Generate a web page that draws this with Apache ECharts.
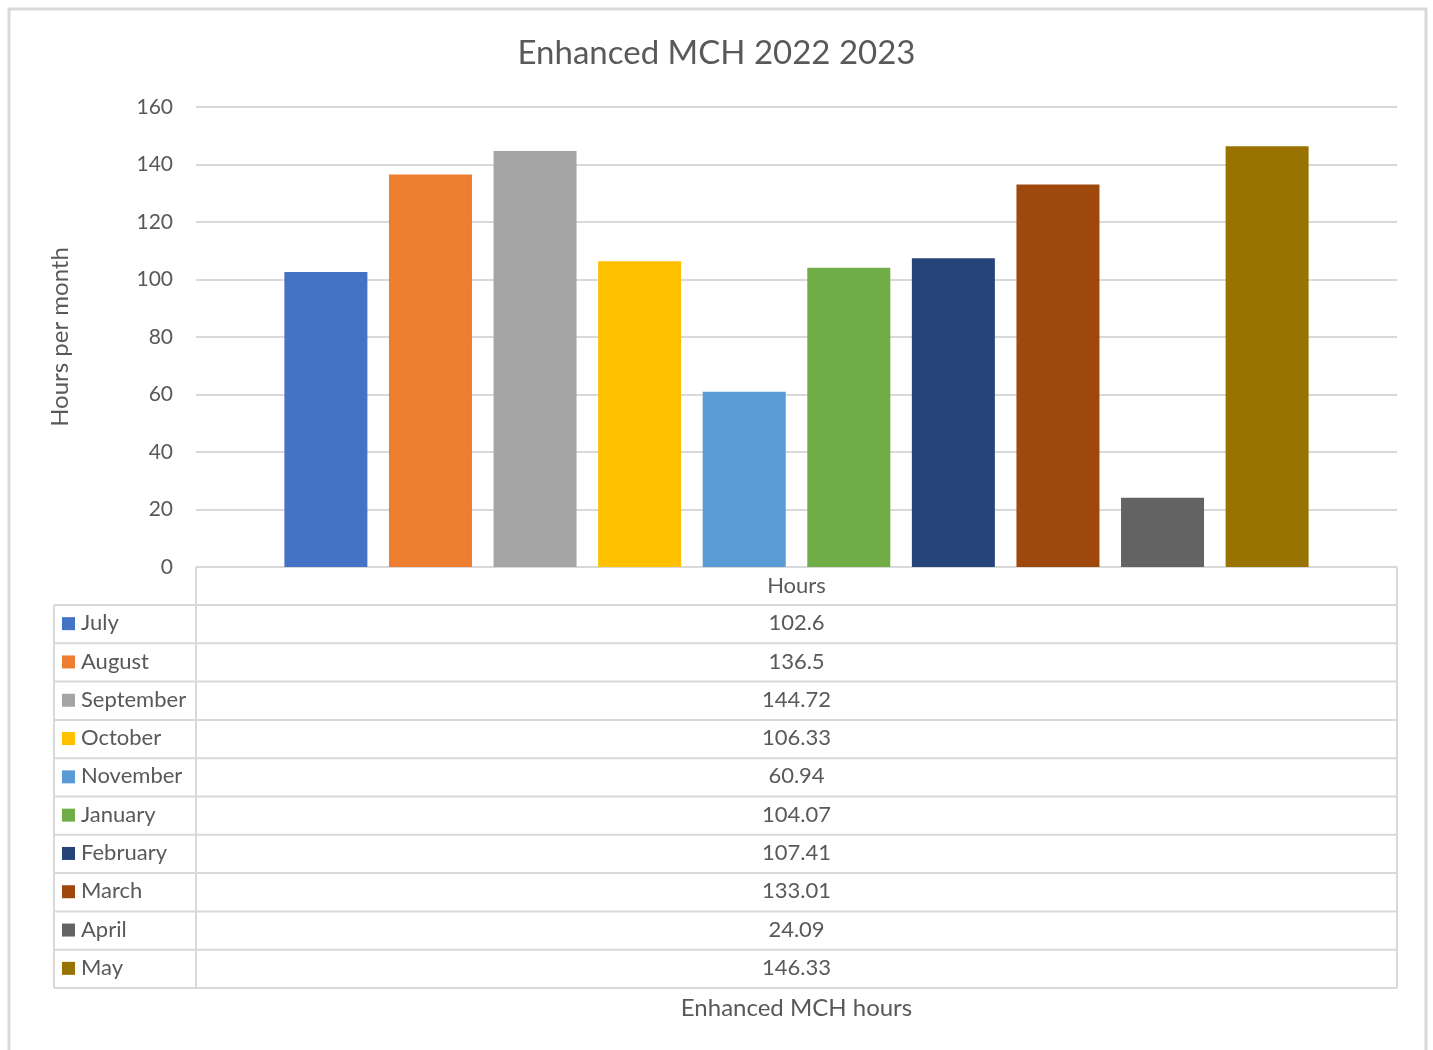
<!DOCTYPE html>
<html>
<head>
<meta charset="utf-8">
<script src="https://cdn.jsdelivr.net/npm/echarts@6/dist/echarts.min.js"></script>
<style>
  html, body { margin: 0; padding: 0; background: #fff; }
  #chart { width: 1433px; height: 1050px; }
</style>
</head>
<body>
<div id="chart"></div>
<script>
// Monthly enhanced MCH hours, 2022–2023
const months = ['July', 'August', 'September', 'October', 'November', 'January', 'February', 'March', 'April', 'May'];
const hours = [102.6, 136.5, 144.72, 106.33, 60.94, 104.07, 107.41, 133.01, 24.09, 146.33];
const monthColors = ['#4472C4', '#ED7D31', '#A5A5A5', '#FFC000', '#5B9BD5', '#70AD47', '#264478', '#9E480E', '#636363', '#997300'];
const categories = ['Hours'];
const yTicks = { min: 0, max: 160, interval: 20 };

const FONT = 'Lato, "Open Sans", sans-serif';
const TEXT = '#595959';
const LINE = '#d9d9d9';

// plot area
const plotLeft = 196, plotRight = 1397, plotTop = 107, plotBottom = 567;
// data table under the plot
const tableLeft = 54, headerH = 38, rowH = 38.3;
const tableTop = plotBottom;
const rowsTop = tableTop + headerH;
const tableBottom = rowsTop + rowH * months.length;
const valueX = (plotLeft + plotRight) / 2;

const chart = echarts.init(document.getElementById('chart'), null, { renderer: 'canvas' });

const series = months.map((m, i) => ({
  name: m,
  type: 'bar',
  data: [hours[i]],
  barWidth: 83,
  barGap: '26%',
  itemStyle: { color: monthColors[i] }
}));

// table grid lines and text
const g = [];
const line = (x1, y1, x2, y2) => g.push({
  type: 'line', shape: { x1, y1, x2, y2 },
  style: { stroke: LINE, lineWidth: 2 }, silent: true
});
// header row
line(plotLeft, tableTop, plotRight, tableTop);
line(tableLeft, rowsTop, plotRight, rowsTop);
for (let i = 1; i <= months.length; i++) {
  const y = rowsTop + rowH * i;
  line(tableLeft, y, plotRight, y);
}
line(plotLeft, tableTop, plotLeft, tableBottom);
line(plotRight, tableTop, plotRight, tableBottom);
line(tableLeft, rowsTop, tableLeft, tableBottom);

const cellFont = '22px ' + FONT;
g.push({
  type: 'text', x: valueX, y: tableTop + headerH / 2,
  style: { text: categories[0], fill: TEXT, font: cellFont, textAlign: 'center', textVerticalAlign: 'middle' }
});
months.forEach((m, i) => {
  const cy = rowsTop + rowH * i + rowH / 2 - 1;
  g.push({ type: 'rect', shape: { x: 62, y: cy - 6, width: 13, height: 13 }, style: { fill: monthColors[i] } });
  g.push({
    type: 'text', x: 81, y: cy,
    style: { text: m, fill: TEXT, font: cellFont, textAlign: 'left', textVerticalAlign: 'middle' }
  });
  g.push({
    type: 'text', x: valueX, y: cy,
    style: { text: String(hours[i]), fill: TEXT, font: cellFont, textAlign: 'center', textVerticalAlign: 'middle' }
  });
});
// horizontal axis title
g.push({
  type: 'text', x: valueX, y: 1008,
  style: { text: 'Enhanced MCH hours', fill: TEXT, font: '24px ' + FONT, textAlign: 'center', textVerticalAlign: 'middle' }
});
// chart frame
g.push({
  type: 'rect', shape: { x: 9, y: 9, width: 1417, height: 1100 },
  style: { fill: 'none', stroke: LINE, lineWidth: 3 }, silent: true
});

chart.setOption({
  animation: false,
  backgroundColor: '#fff',
  title: {
    text: 'Enhanced MCH 2022 2023',
    left: 'center', top: 32,
    textStyle: { color: TEXT, fontFamily: FONT, fontSize: 33, fontWeight: 'normal' }
  },
  grid: { left: plotLeft, right: 1433 - plotRight, top: plotTop, bottom: 1050 - plotBottom, containLabel: false },
  xAxis: {
    type: 'category', data: categories,
    axisLine: { show: false }, axisTick: { show: false }, axisLabel: { show: false }
  },
  yAxis: {
    type: 'value', min: yTicks.min, max: yTicks.max, interval: yTicks.interval,
    name: 'Hours per month', nameLocation: 'middle', nameGap: 124, nameRotate: 90,
    nameTextStyle: { color: TEXT, fontFamily: FONT, fontSize: 24 },
    axisLine: { show: false }, axisTick: { show: false },
    axisLabel: { color: TEXT, fontFamily: FONT, fontSize: 21, margin: 23 },
    splitLine: { lineStyle: { color: LINE, width: 2 } }
  },
  series,
  graphic: g
});
</script>
</body>
</html>
